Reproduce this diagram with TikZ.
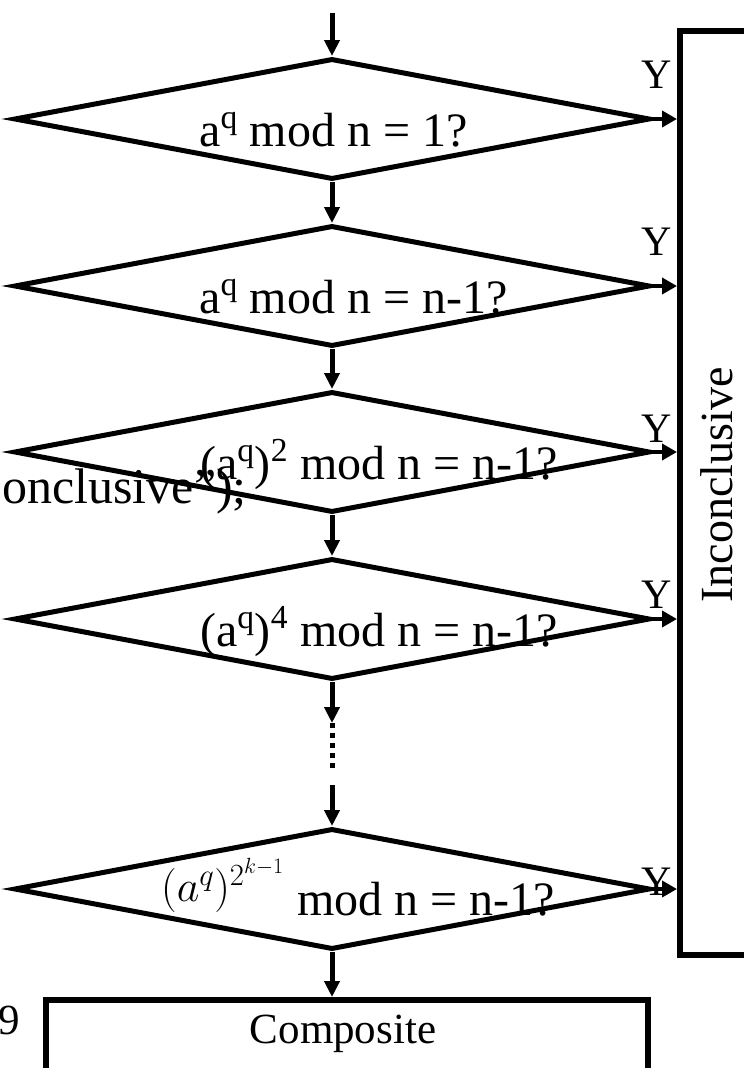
\RequirePackage{fix-cm}
\documentclass[tikz,border=0pt]{standalone}
\usepackage[no-math]{fontspec}
\setmainfont{Liberation Serif}
\usetikzlibrary{shapes.geometric,arrows.meta}
\begin{document}
\begin{tikzpicture}[x=1pt,y=-1pt,
  dia/.style={draw, diamond, line width=5pt, minimum width=636pt, minimum height=121pt, inner sep=0pt},
  box/.style={draw, line width=6pt, inner sep=0pt},
  flow/.style={line width=5pt, -{Triangle[length=16pt,width=15pt]}},
  yes/.style={line width=4.5pt, -{Triangle[length=15pt,width=16pt]}},
  lab/.style={font=\fontsize{48}{52}\selectfont, inner sep=0pt, anchor=base west},
  ylab/.style={font=\fontsize{42}{46}\selectfont, inner sep=0pt, anchor=base east},
  big/.style={font=\fontsize{43}{47}\selectfont, inner sep=0pt}
]
\useasboundingbox (0,0) rectangle (744,1068);
\coordinate (top) at (332,13);
\node[dia] (d1) at (332,119) {};
\node[dia] (d2) at (332,286) {};
\node[dia] (d3) at (332,452) {};
\node[dia] (d4) at (332,619) {};
\node[dia] (d5) at (332,889) {};
\node[box, anchor=north west, minimum width=130pt, minimum height=924pt] (inc) at (677,28) {};
\node[font=\fontsize{46}{50}\selectfont, inner sep=0pt, rotate=90] (inct) at (717,485) {Inconclusive};
\node[box, anchor=north west, minimum width=602pt, minimum height=120pt] (comp) at (43,997) {};
\node[big, anchor=base] (compt) at (343,1043) {Composite};
% texts in diamonds
\node[lab] (t1) at (199,146) {a\textsuperscript{q} mod n = 1?};
\node[lab] (t2) at (199,313) {a\textsuperscript{q} mod n = n-1?};
\node[lab] (t3) at (200,479) {(a\textsuperscript{q})\textsuperscript{2} mod n = n-1?};
\node[lab] (t4) at (200,646) {(a\textsuperscript{q})\textsuperscript{4} mod n = n-1?};
\node[inner sep=0pt, anchor=base west, font=\fontsize{44}{48}\selectfont] (t5m) at (161,901) {$(a^q)^{2^{k-1}}$};
\node[lab] (t5) at (297,915) {mod n = n-1?};
% stray texts
\node[inner sep=0pt, anchor=base east, font=\fontsize{50}{54}\selectfont] (stray) at (247,503) {onclusive");};
\node[big, anchor=base east] (nine) at (20,1034) {9};
% flow
\coordinate (c1) at (332,723);
\coordinate (c2) at (332,768);
\coordinate (c3) at (332,785);
\draw[flow] (top) -- (d1.north);
\draw[flow] (d1.south) -- (d2.north);
\draw[flow] (d2.south) -- (d3.north);
\draw[flow] (d3.south) -- (d4.north);
\draw[flow] (d4.south) -- (c1);
\draw[line width=5pt, dash pattern=on 5pt off 5pt] (c1) -- (c2);
\draw[flow] (c3) -- (d5.north);
\draw[flow] (d5.south) -- (d5.south |- comp.north);
% yes branches
\foreach \d/\yb in {d1/88, d2/255, d3/442, d4/608, d5/895} {
  \draw[yes] (\d.east) -- (\d.east -| inc.west);
  \node[ylab] at (672,\yb) {Y};
}
\end{tikzpicture}
\end{document}
